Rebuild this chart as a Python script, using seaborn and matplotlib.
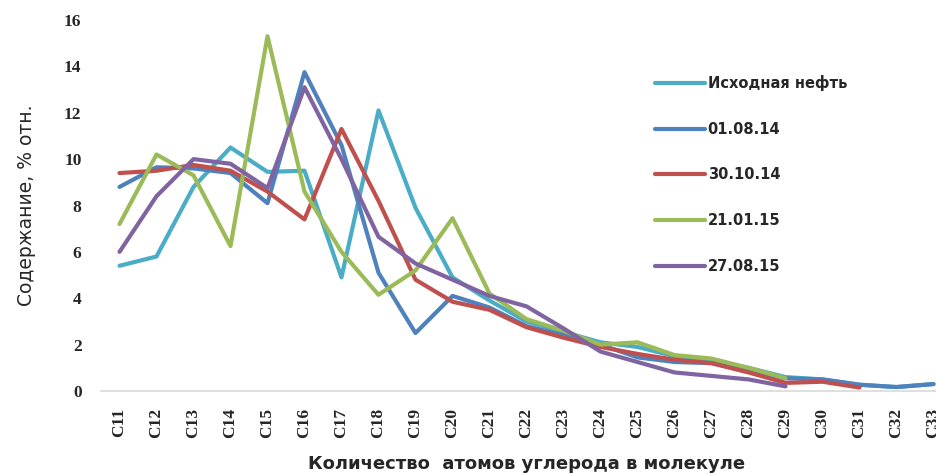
import matplotlib
matplotlib.use("Agg")
import matplotlib.pyplot as plt
import pandas as pd
import seaborn as sns

# Data
carbons = ["C" + str(i) for i in range(11, 34)]

ishodnaya = [5.4, 5.8, 8.8, 10.5, 9.45, 9.5, 4.9, 12.1, 7.9, 4.9, 3.9, 3.0, 2.55, 2.1, 1.9,
             1.5, 1.3, 1.0, 0.6, 0.5, 0.27, 0.17, 0.3]
d_010814 = [8.8, 9.65, 9.6, 9.4, 8.1, 13.75, 10.6, 5.1, 2.5, 4.1, 3.6, 2.8, 2.4, 2.0, 1.45,
            1.25, 1.2, 0.85, 0.55, 0.5, 0.27, 0.17, 0.3]
d_301014 = [9.4, 9.5, 9.75, 9.5, 8.6, 7.4, 11.3, 8.2, 4.8, 3.85, 3.5, 2.75, 2.3, 1.9, 1.6,
            1.35, 1.2, 0.8, 0.35, 0.4, 0.15]
d_210115 = [7.2, 10.2, 9.3, 6.25, 15.3, 8.6, 6.0, 4.15, 5.2, 7.45, 4.2, 3.1, 2.6, 2.0, 2.1,
            1.55, 1.4, 1.0, 0.55]
d_270815 = [6.0, 8.4, 10.0, 9.8, 8.75, 13.1, 10.0, 6.65, 5.5, 4.8, 4.1, 3.65, 2.7, 1.7, 1.25,
            0.8, 0.65, 0.5, 0.2]

series = {
    "Исходная нефть": ishodnaya,
    "01.08.14": d_010814,
    "30.10.14": d_301014,
    "21.01.15": d_210115,
    "27.08.15": d_270815,
}
colors = ["#4BACC6", "#4F81BD", "#C0504D", "#9BBB59", "#8064A2"]

rows = []
for name, vals in series.items():
    for i, v in enumerate(vals):
        rows.append({"pos": i, "value": v, "sample": name})
df = pd.DataFrame(rows)

sns.set_style("white")
fig = plt.figure(figsize=(9.37, 4.74), dpi=100)
ax = fig.add_axes([101 / 937, 83 / 474, 851 / 937, 371 / 474])

sns.lineplot(data=df, x="pos", y="value", hue="sample", palette=colors,
             linewidth=3, ax=ax, legend=True)

ax.set_xlim(-0.5, 22.5)
ax.set_ylim(0, 16)
ax.set_xticks(range(len(carbons)))
ax.set_xticklabels(carbons, rotation=90, fontsize=12.5, fontweight="bold", family="Liberation Serif")
ax.set_yticks(range(0, 17, 2))
ax.set_yticklabels([str(v) for v in range(0, 17, 2)], fontsize=12.5, fontweight="bold",
                   family="Liberation Serif")
ax.tick_params(axis="both", length=0)
ax.tick_params(axis="y", pad=14)
ax.tick_params(axis="x", pad=12)

for s in ["top", "right", "left"]:
    ax.spines[s].set_visible(False)
ax.spines["bottom"].set_color("#D9D9D9")
ax.spines["bottom"].set_linewidth(1.2)

ax.set_xlabel("Количество  атомов углерода в молекуле", fontsize=13, fontweight="bold", labelpad=12)
ax.set_ylabel("Содержание, % отн.", fontsize=13.5, labelpad=20)

leg = ax.legend(loc="upper left", bbox_to_anchor=(642 / 937, 1 - 62 / 474),
                bbox_transform=fig.transFigure, frameon=False,
                prop={"size": 10.5, "weight": "bold"}, labelspacing=2.1,
                handlelength=3.4, handletextpad=0.2)
for line in leg.get_lines():
    line.set_linewidth(3)

fig.savefig("out.png", dpi=100)
